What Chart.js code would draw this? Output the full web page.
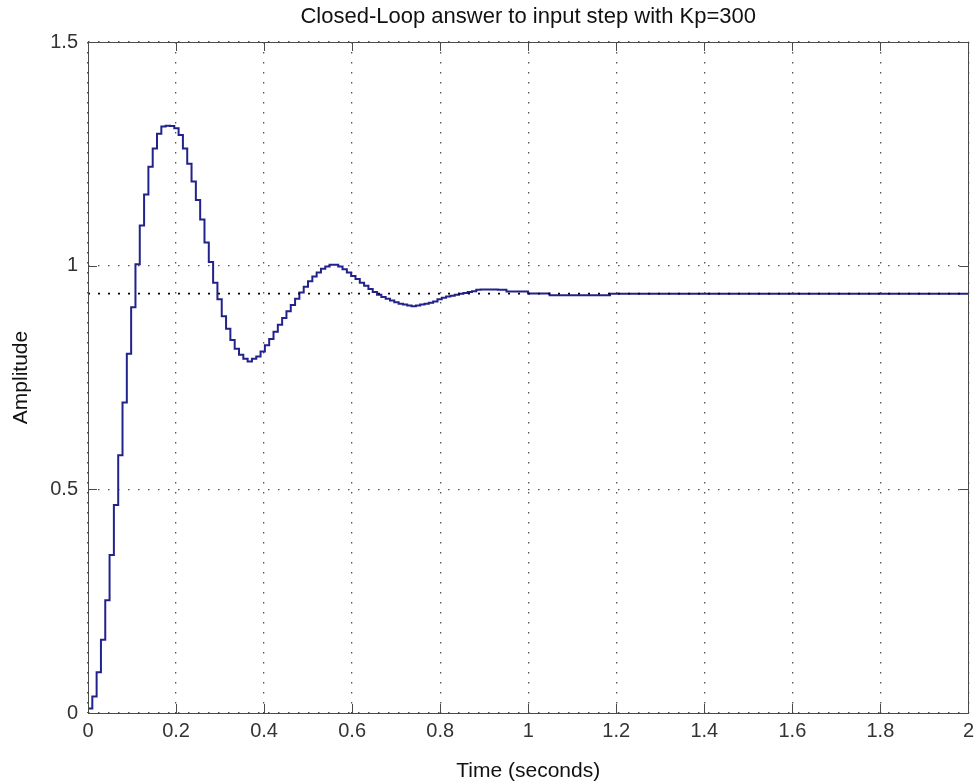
<!DOCTYPE html>
<html>
<head>
<meta charset="utf-8">
<script src="https://cdn.jsdelivr.net/npm/chart.js@4.4.1/dist/chart.umd.min.js"></script>
<style>
  body { margin: 0; background: #fff; }
  #stepChart { display: block; }
</style>
</head>
<body>
<canvas id="stepChart" width="980" height="784"></canvas>
<script>
// step response, one value per sample (held until next sample)
let sampleTime = 0.0098;
let amplitude = [
  0.010, 0.037, 0.091, 0.164, 0.252, 0.353, 0.465, 0.576, 0.694, 0.803,
  0.907, 1.003, 1.090, 1.159, 1.221, 1.262, 1.295, 1.311, 1.313, 1.312,
  1.307, 1.292, 1.262, 1.228, 1.188, 1.147, 1.103, 1.052, 1.008, 0.962,
  0.925, 0.887, 0.859, 0.834, 0.814, 0.801, 0.792, 0.786, 0.792, 0.797,
  0.808, 0.822, 0.836, 0.852, 0.868, 0.883, 0.898, 0.912, 0.926, 0.940,
  0.953, 0.965, 0.976, 0.985, 0.993, 0.998, 1.002, 1.002, 0.998, 0.992,
  0.985, 0.977, 0.970, 0.962, 0.955, 0.948, 0.941, 0.935, 0.930, 0.926,
  0.922, 0.918, 0.915, 0.913, 0.911, 0.909, 0.911, 0.913, 0.915, 0.917,
  0.920, 0.925, 0.928, 0.931, 0.933, 0.935, 0.937, 0.939, 0.941, 0.943,
  0.946, 0.947, 0.947, 0.947, 0.947, 0.946, 0.946, 0.942, 0.942, 0.942,
  0.942, 0.942, 0.938, 0.938, 0.938, 0.938, 0.938, 0.934, 0.934, 0.934,
  0.934, 0.934, 0.934, 0.934, 0.934, 0.934, 0.934, 0.934, 0.934, 0.934,
  0.934, 0.937, 0.937, 0.937, 0.937, 0.937, 0.937, 0.937, 0.937, 0.937,
  0.937, 0.937, 0.937, 0.937, 0.937, 0.937, 0.937, 0.937, 0.937, 0.937,
  0.937, 0.937, 0.937, 0.937, 0.937, 0.937, 0.937, 0.937, 0.937, 0.937,
  0.937, 0.937, 0.937, 0.937, 0.937, 0.937, 0.937, 0.937, 0.937, 0.937,
  0.937, 0.937, 0.937, 0.937, 0.937, 0.937, 0.937, 0.937, 0.937, 0.937,
  0.937, 0.937, 0.937, 0.937, 0.937, 0.937, 0.937, 0.937, 0.937, 0.937,
  0.937, 0.937, 0.937, 0.937, 0.937, 0.937, 0.937, 0.937, 0.937, 0.937,
  0.937, 0.937, 0.937, 0.937, 0.937, 0.937, 0.937, 0.937, 0.937, 0.937,
  0.937, 0.937, 0.937, 0.937, 0.937
];
let steadyState = 0.9375;

let xTicks = [0, 0.2, 0.4, 0.6, 0.8, 1, 1.2, 1.4, 1.6, 1.8, 2];
let xTickLabels = ["0", "0.2", "0.4", "0.6", "0.8", "1", "1.2", "1.4", "1.6", "1.8", "2"];
let yTicks = [0, 0.5, 1, 1.5];
let yTickLabels = ["0", "0.5", "1", "1.5"];

let titleText = "Closed-Loop answer to input step with Kp=300";
let xTitle = "Time (seconds)";
let yTitle = "Amplitude";

// build points for the library
let stepPoints = amplitude.map(function (v, i) {
    return { x: i * sampleTime, y: v };
});
let steadyPoints = [{ x: xTicks[0], y: steadyState }, { x: xTicks[xTicks.length - 1], y: steadyState }];

let fontFamily = "'Liberation Sans', Arial, sans-serif";

// box round the axes and the inward ticks, like matlab
let axesBox = {
    id: 'axesBox',
    afterDraw: function (chart) {
        let c = chart.ctx;
        let a = chart.chartArea;
        let xs = chart.scales.x;
        let ys = chart.scales.y;
        let len = 9;
        c.save();
        c.strokeStyle = '#4a4a4a';
        c.lineWidth = 1;
        c.beginPath();
        xTicks.forEach(function (v) {
            let px = Math.round(xs.getPixelForValue(v)) + 0.5;
            c.moveTo(px, a.bottom); c.lineTo(px, a.bottom - len);
            c.moveTo(px, a.top); c.lineTo(px, a.top + len);
        });
        yTicks.forEach(function (v) {
            let py = Math.round(ys.getPixelForValue(v)) + 0.5;
            c.moveTo(a.left, py); c.lineTo(a.left + len, py);
            c.moveTo(a.right, py); c.lineTo(a.right - len, py);
        });
        c.stroke();
        c.strokeRect(Math.round(a.left) + 0.5, Math.round(a.top) + 0.5,
            Math.round(a.right - a.left), Math.round(a.bottom - a.top));
        c.restore();
    }
};

let ctx = document.getElementById('stepChart').getContext('2d');
let stepChart = new Chart(ctx, {
    type: 'line',
    data: {
        datasets: [{
            label: 'Steady state',
            data: steadyPoints,
            borderColor: '#000000',
            borderWidth: 1.6,
            borderDash: [2, 8],
            pointRadius: 0,
            fill: false,
            order: 0
        }, {
            label: 'Step response',
            data: stepPoints,
            stepped: true,
            borderColor: '#22228c',
            borderWidth: 2,
            pointRadius: 0,
            fill: false,
            order: 1
        }]
    },
    options: {
        responsive: false,
        animation: false,
        layout: { padding: { left: 0, right: 10, top: 0, bottom: 0 } },
        plugins: {
            legend: { display: false },
            tooltip: { enabled: false },
            title: {
                display: true,
                fullSize: false,
                text: titleText,
                color: '#111',
                font: { family: fontFamily, size: 22, weight: 'normal' },
                padding: { top: 4, bottom: 11.6 }
            }
        },
        scales: {
            x: {
                type: 'linear',
                min: 0,
                max: 2,
                afterBuildTicks: function (scale) {
                    scale.ticks = xTicks.map(function (v) { return { value: v }; });
                },
                afterFit: function (scale) { scale.height = 71; },
                ticks: {
                    autoSkip: false,
                    maxRotation: 0,
                    padding: 6,
                    color: '#333',
                    font: { family: fontFamily, size: 20 },
                    callback: function (value) {
                        let i = xTicks.indexOf(value);
                        return i >= 0 ? xTickLabels[i] : '';
                    }
                },
                grid: { color: 'rgba(40,40,40,0.8)', lineWidth: 1.3, drawTicks: false },
                border: { display: false, dash: [1.5, 8.5] },
                title: {
                    display: true,
                    text: xTitle,
                    color: '#111',
                    font: { family: fontFamily, size: 21 },
                    padding: { top: 0, bottom: 0 }
                }
            },
            y: {
                min: 0,
                max: 1.5,
                afterBuildTicks: function (scale) {
                    scale.ticks = yTicks.map(function (v) { return { value: v }; });
                },
                afterFit: function (scale) { scale.width = 88; },
                ticks: {
                    autoSkip: false,
                    padding: 10,
                    color: '#333',
                    font: { family: fontFamily, size: 20 },
                    callback: function (value) {
                        let i = yTicks.indexOf(value);
                        return i >= 0 ? yTickLabels[i] : '';
                    }
                },
                grid: { color: 'rgba(40,40,40,0.8)', lineWidth: 1.3, drawTicks: false },
                border: { display: false, dash: [1.5, 8.5] },
                title: {
                    display: true,
                    text: yTitle,
                    color: '#111',
                    font: { family: fontFamily, size: 21 },
                    padding: { top: 9, bottom: 0 }
                }
            }
        }
    },
    plugins: [axesBox]
});
</script>
</body>
</html>
